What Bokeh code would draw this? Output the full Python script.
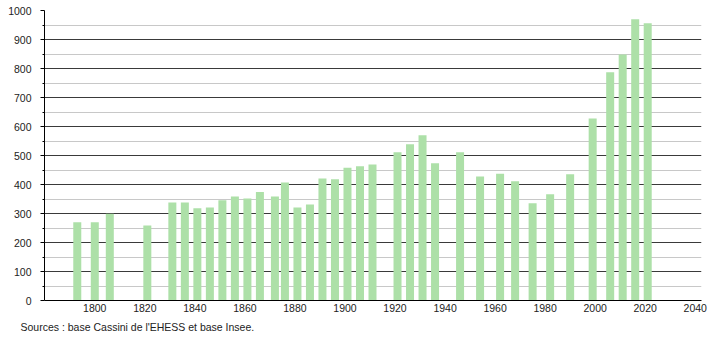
from bokeh.plotting import figure
from bokeh.models import Range1d, FixedTicker, Title
from bokeh.embed import file_html
from bokeh.resources import INLINE

years = [1793, 1800, 1806, 1821, 1831, 1836, 1841, 1846, 1851, 1856, 1861, 1866,
         1872, 1876, 1881, 1886, 1891, 1896, 1901, 1906, 1911, 1921, 1926, 1931,
         1936, 1946, 1954, 1962, 1968, 1975, 1982, 1990, 1999, 2006, 2011, 2016, 2021]
population = [270, 270, 299, 259, 338, 338, 318, 321, 346, 359, 352, 374,
              359, 407, 321, 331, 421, 418, 458, 463, 469, 511, 539, 570,
              473, 511, 428, 437, 411, 335, 366, 435, 628, 787, 848, 970, 956]
x_ticks = [1800, 1820, 1840, 1860, 1880, 1900, 1920, 1940, 1960, 1980, 2000, 2020, 2040]
y_ticks = [0, 100, 200, 300, 400, 500, 600, 700, 800, 900, 1000]
y_minor = [50, 150, 250, 350, 450, 550, 650, 750, 850, 950]
source_text = "Sources : base Cassini de l'EHESS et base Insee."

p = figure(width=710, height=340, output_backend="svg", toolbar_location=None,
           x_range=Range1d(1779.9, 2042.5), y_range=Range1d(0, 1000),
           min_border_left=44, min_border_right=9, min_border_top=10, min_border_bottom=40)
p.outline_line_color = None
p.background_fill_color = "white"

# grid
p.xgrid.visible = False
p.ygrid.ticker = FixedTicker(ticks=y_ticks, minor_ticks=y_minor)
p.ygrid.grid_line_color = "#3a3a3a"
p.ygrid.grid_line_width = 1
p.ygrid.minor_grid_line_color = "#c8c8c8"
p.ygrid.minor_grid_line_width = 1

p.vbar(x=years, top=population, width=3.2, bottom=0,
       fill_color="#ade0a8", line_color=None)

# axes
p.xaxis.ticker = FixedTicker(ticks=x_ticks)
p.xaxis.major_tick_out = 0
p.xaxis.major_tick_in = 0
p.xaxis.minor_tick_out = 0
p.xaxis.minor_tick_in = 0
p.xaxis.axis_line_color = "black"
p.xaxis.major_label_standoff = 3
p.xaxis.major_label_text_font = "Liberation Sans"
p.xaxis.major_label_text_font_size = "10.5px"
p.xaxis.major_label_text_color = "#222222"

p.yaxis.ticker = FixedTicker(ticks=y_ticks, minor_ticks=y_minor)
p.yaxis.major_tick_out = 4
p.yaxis.major_tick_in = 0
p.yaxis.minor_tick_out = 2
p.yaxis.minor_tick_in = 0
p.yaxis.axis_line_color = "black"
p.yaxis.major_tick_line_color = "black"
p.yaxis.minor_tick_line_color = "black"
p.yaxis.major_label_standoff = 9
p.yaxis.major_label_text_font = "Liberation Sans"
p.yaxis.major_label_text_font_size = "10.5px"
p.yaxis.major_label_text_color = "#222222"

src = Title(text=source_text, align="left", offset=-24, standoff=8,
            text_font="Liberation Sans", text_font_size="10.5px",
            text_font_style="normal", text_color="#222222")
p.add_layout(src, "below")

open("out.html", "w").write(file_html(p, INLINE))
